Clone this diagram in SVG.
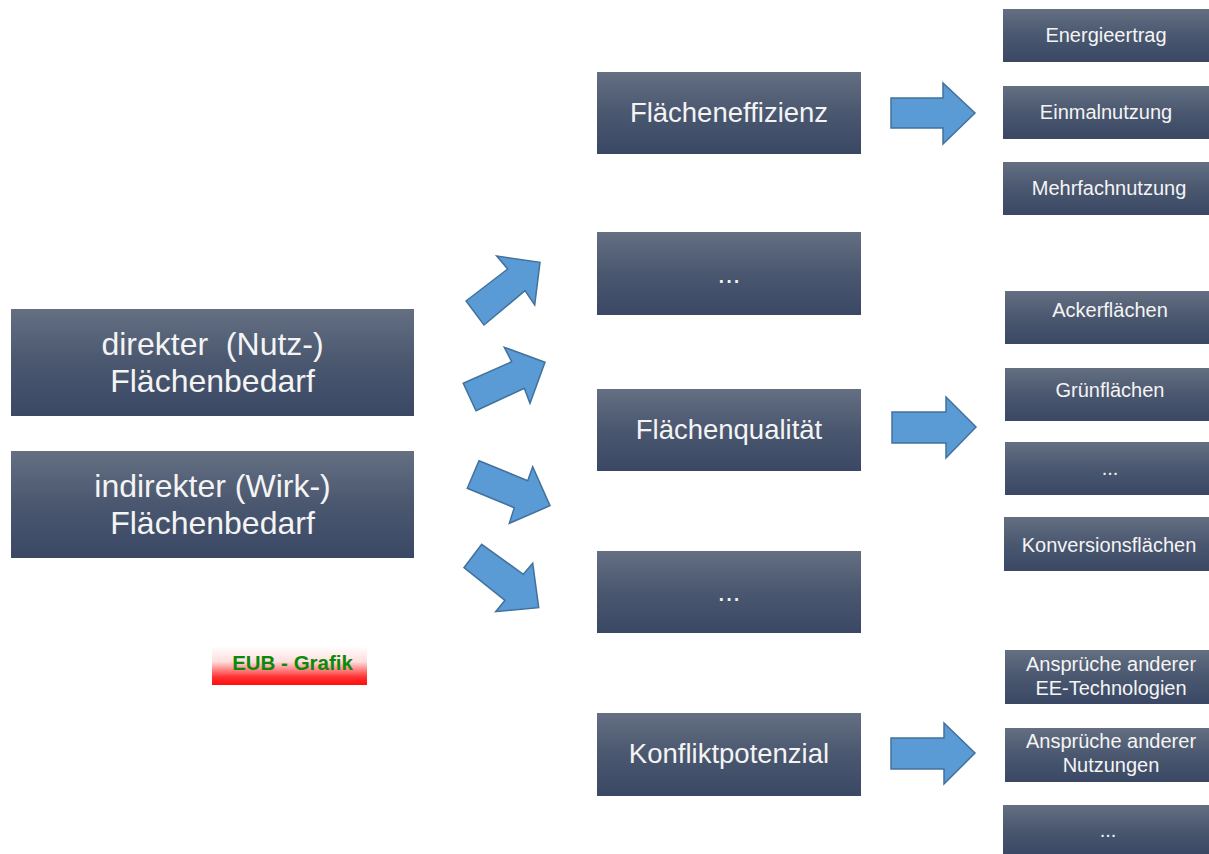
<svg xmlns="http://www.w3.org/2000/svg" width="1209" height="854" viewBox="0 0 1209 854">
<defs>
<linearGradient id="bg" x1="0" y1="0" x2="0" y2="1">
<stop offset="0" stop-color="#646f82"/>
<stop offset="0.5" stop-color="#4a576f"/>
<stop offset="1" stop-color="#3a4865"/>
</linearGradient>
<linearGradient id="eub" x1="0" y1="0" x2="0" y2="1">
<stop offset="0" stop-color="#ffffff"/>
<stop offset="0.4" stop-color="#ffdede"/>
<stop offset="0.8" stop-color="#ff3030"/>
<stop offset="1" stop-color="#ff0d0d"/>
</linearGradient>
<style>
.box{fill:url(#bg)}
.t{fill:#f4f4f4;font-family:"Liberation Sans",Arial,sans-serif;text-anchor:middle}
.big{font-size:32px}
.mid{font-size:27.5px}
.sm{font-size:20px}
.arr{fill:#5b9bd5;stroke:#41719c;stroke-width:1.5;stroke-linejoin:miter}
</style>
</defs>
<rect width="1209" height="854" fill="#ffffff"/>

<g id="connectors">
<polygon class="arr" points="466,301 507.7,269 496.7,256 540,262.3 534.7,305 525,290.7 484,325"/>
<polygon class="arr" points="463.3,383.3 511.7,361.7 504.3,347.3 545,362.3 530,403.3 524.3,388.3 476,410.7"/>
<polygon class="arr" points="479,460.7 527.7,480.7 532.7,466.7 550,505.7 509.3,523.3 514.3,507.7 467.3,488.3"/>
<polygon class="arr" points="481.7,544.3 523.3,574.3 532.7,563.3 538.7,607.7 495.7,611.7 505,600.3 464,567.7"/>
<polygon class="arr" points="891,98 943,98 943,83 975,113 943,144 943,128 891,128"/>
<polygon class="arr" points="892,412 946,412 946,397 976,427 946,458 946,443 892,443"/>
<polygon class="arr" points="891,738 944,738 944,723 975,753 944,784 944,769 891,769"/>
</g>

<g id="n-direkt"><rect class="box" x="11" y="309" width="403" height="107"/>
<text class="t big" x="212.5" y="355" xml:space="preserve">direkter  (Nutz-)</text>
<text class="t big" x="212.5" y="392">Flächenbedarf</text></g>
<g id="n-indirekt"><rect class="box" x="11" y="451" width="403" height="107"/>
<text class="t big" x="212.5" y="497">indirekter (Wirk-)</text>
<text class="t big" x="212.5" y="534">Flächenbedarf</text></g>

<g id="n-effizienz"><rect class="box" x="597" y="72" width="264" height="82"/>
<text class="t mid" x="729" y="122">Flächeneffizienz</text></g>
<g id="n-dots1"><rect class="box" x="597" y="232" width="264" height="83"/>
<text class="t mid" x="729" y="283">...</text></g>
<g id="n-qualitaet"><rect class="box" x="597" y="389" width="264" height="82"/>
<text class="t mid" x="729" y="439">Flächenqualität</text></g>
<g id="n-dots2"><rect class="box" x="597" y="551" width="264" height="82"/>
<text class="t mid" x="729" y="601">...</text></g>
<g id="n-konflikt"><rect class="box" x="597" y="713" width="264" height="83"/>
<text class="t mid" x="729" y="763">Konfliktpotenzial</text></g>

<g id="n-energieertrag"><rect class="box" x="1003" y="9" width="206" height="53"/>
<text class="t sm" x="1106" y="42">Energieertrag</text></g>
<g id="n-einmal"><rect class="box" x="1003" y="86" width="206" height="53"/>
<text class="t sm" x="1106" y="119">Einmalnutzung</text></g>
<g id="n-mehrfach"><rect class="box" x="1003" y="162" width="206" height="53"/>
<text class="t sm" x="1109" y="195">Mehrfachnutzung</text></g>

<g id="n-acker"><rect class="box" x="1005" y="291" width="204" height="53"/>
<text class="t sm" x="1110" y="317">Ackerflächen</text></g>
<g id="n-gruen"><rect class="box" x="1005" y="368" width="204" height="53"/>
<text class="t sm" x="1110" y="397">Grünflächen</text></g>
<g id="n-dots3"><rect class="box" x="1005" y="442" width="204" height="53"/>
<text class="t sm" x="1110" y="475">...</text></g>
<g id="n-konversion"><rect class="box" x="1004" y="517" width="205" height="54"/>
<text class="t sm" x="1109" y="552">Konversionsflächen</text></g>

<g id="n-ee"><rect class="box" x="1005" y="650" width="204" height="54"/>
<text class="t sm" x="1111" y="671">Ansprüche anderer</text>
<text class="t sm" x="1111" y="695">EE-Technologien</text></g>
<g id="n-nutzungen"><rect class="box" x="1005" y="728" width="204" height="54"/>
<text class="t sm" x="1111" y="748">Ansprüche anderer</text>
<text class="t sm" x="1111" y="772">Nutzungen</text></g>
<g id="n-dots4"><rect class="box" x="1003" y="805" width="206" height="49"/>
<text class="t sm" x="1108" y="837">...</text></g>

<g id="eub-label"><rect x="212" y="646" width="155" height="39" fill="url(#eub)"/>
<text x="292.5" y="670" font-family="'Liberation Sans',Arial,sans-serif" font-weight="bold" font-size="20.5" fill="#0a8a0a" text-anchor="middle">EUB - Grafik</text></g>
</svg>
